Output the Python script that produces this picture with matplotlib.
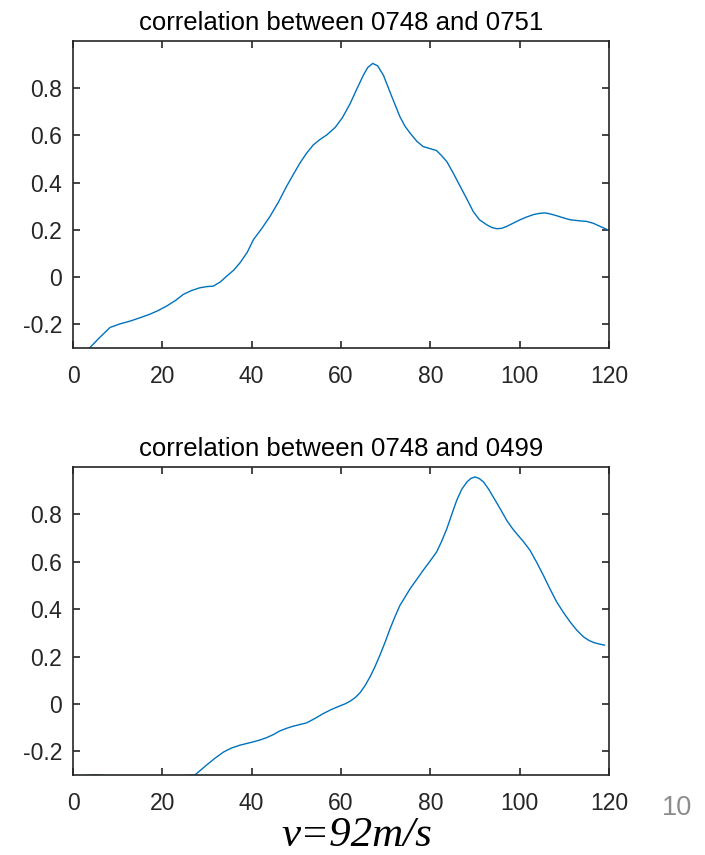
import matplotlib.pyplot as plt

# lag values and correlation
lag_top = [2.0, 3.8, 6.0, 8.3, 10.5, 12.8, 15.0, 17.2, 19.0, 21.0, 23.0, 24.7, 26.5,
           28.4, 30.0, 31.4, 33.0, 34.4, 36.0, 37.4, 39.0, 40.4, 42.3, 44.1, 46.0,
           47.8, 49.3, 50.8, 52.3, 53.8, 55.3, 56.8, 58.7, 60.3, 62.0, 63.5, 65.0,
           66.0, 67.1, 68.2, 69.5, 71.3, 73.2, 74.3, 75.5, 77.0, 78.4, 80.0, 81.4,
           82.5, 83.7, 85.2, 86.7, 88.2, 89.6, 91.0, 92.6, 93.8, 94.9, 96.0, 97.1,
           98.6, 100.1, 101.6, 103.1, 104.4, 105.7, 107.0, 108.3, 109.8, 111.3,
           113.2, 115.0, 116.5, 118.0, 119.2, 120.0]
corr_top = [-0.33, -0.298, -0.255, -0.213, -0.198, -0.186, -0.172, -0.157, -0.142,
            -0.122, -0.098, -0.073, -0.057, -0.045, -0.040, -0.038, -0.020, 0.004,
            0.030, 0.061, 0.105, 0.159, 0.207, 0.257, 0.318, 0.384, 0.434, 0.483,
            0.525, 0.560, 0.583, 0.602, 0.634, 0.675, 0.733, 0.795, 0.855, 0.888,
            0.905, 0.895, 0.855, 0.768, 0.679, 0.640, 0.609, 0.575, 0.553, 0.544,
            0.536, 0.515, 0.489, 0.438, 0.384, 0.330, 0.278, 0.243, 0.222, 0.210,
            0.205, 0.207, 0.215, 0.229, 0.243, 0.255, 0.265, 0.270, 0.272, 0.267,
            0.260, 0.251, 0.243, 0.239, 0.236, 0.228, 0.215, 0.205, 0.197]

lag_bot = [0.0, 3.0, 5.0, 7.0, 9.0, 27.3, 28.6, 29.9, 31.8, 33.7, 35.5, 37.4,
           38.9, 40.4, 41.9, 43.4, 44.9, 46.3, 47.8, 49.3, 50.8, 52.3, 54.2, 56.0,
           57.9, 59.8, 61.0, 62.0, 63.2, 64.3, 65.4, 66.5, 67.6, 68.7, 69.9, 71.0,
           72.1, 73.2, 74.4, 75.5, 76.9, 78.4, 79.9, 81.4, 82.5, 83.7, 84.8, 85.9,
           87.0, 88.2, 89.1, 90.0, 90.9, 91.9, 93.0, 94.1, 95.6, 97.1, 98.2, 99.3,
           100.8, 102.3, 103.8, 105.3, 106.8, 108.3, 109.8, 111.3, 112.8, 114.3,
           115.5, 116.6, 117.8, 119.0]
corr_bot = [-0.32, -0.302, -0.299, -0.302, -0.32, -0.300, -0.279, -0.258, -0.229,
            -0.203, -0.186, -0.174, -0.167, -0.160, -0.152, -0.142, -0.129, -0.114,
            -0.103, -0.094, -0.087, -0.080, -0.061, -0.041, -0.023, -0.008, 0.001,
            0.011, 0.027, 0.048, 0.078, 0.114, 0.157, 0.205, 0.262, 0.318, 0.369,
            0.416, 0.453, 0.487, 0.524, 0.564, 0.602, 0.641, 0.685, 0.740, 0.800,
            0.859, 0.905, 0.937, 0.952, 0.958, 0.952, 0.937, 0.908, 0.873, 0.825,
            0.775, 0.745, 0.719, 0.686, 0.649, 0.598, 0.543, 0.485, 0.430, 0.386,
            0.346, 0.311, 0.283, 0.268, 0.259, 0.253, 0.248]

titles = ["correlation between 0748 and 0751", "correlation between 0748 and 0499"]
xticks = [0, 20, 40, 60, 80, 100, 120]
yticks = [-0.2, 0, 0.2, 0.4, 0.6, 0.8]
ytick_labels = ["-0.2", "0", "0.2", "0.4", "0.6", "0.8"]

plt.rcParams['font.family'] = ['Liberation Sans', 'DejaVu Sans']

fig = plt.figure(figsize=(7.05, 8.55), dpi=100)
W, H = 705, 855
# axes boxes in pixels: left, top, right, bottom
boxes = [(73, 41, 609, 348), (73, 467, 609, 775)]
data = [(lag_top, corr_top), (lag_bot, corr_bot)]

for (l, t, r, b), (x, y), title in zip(boxes, data, titles):
    ax = fig.add_axes([l / W, 1 - b / H, (r - l) / W, (b - t) / H])
    ax.plot(x, y, color='#0072BD', linewidth=1.0)
    ax.set_xlim(0, 120)
    ax.set_ylim(-0.3, 1.0)
    ax.set_xticks(xticks)
    ax.set_yticks(yticks)
    ax.set_yticklabels(ytick_labels)
    ax.tick_params(direction='in', length=5, width=1.2, top=True, right=True,
                   labelsize=16.5, colors='#262626')
    ax.tick_params(axis='y', pad=8)
    ax.tick_params(axis='x', pad=12)
    for s in ax.spines.values():
        s.set_linewidth(1.2)
        s.set_color('#262626')
    ax.set_title(title, fontsize=18.5, pad=8, color='black')

fig.text(357 / W, 1 - 855 / H, "v=92m/s", fontsize=31, family='Liberation Serif',
         style='italic', ha='center', va='bottom')
fig.text(677 / W, 1 - 808 / H, "10", fontsize=19.5, color='#8c8c8c',
         ha='center', va='center')

fig.savefig("out.png", dpi=100)
